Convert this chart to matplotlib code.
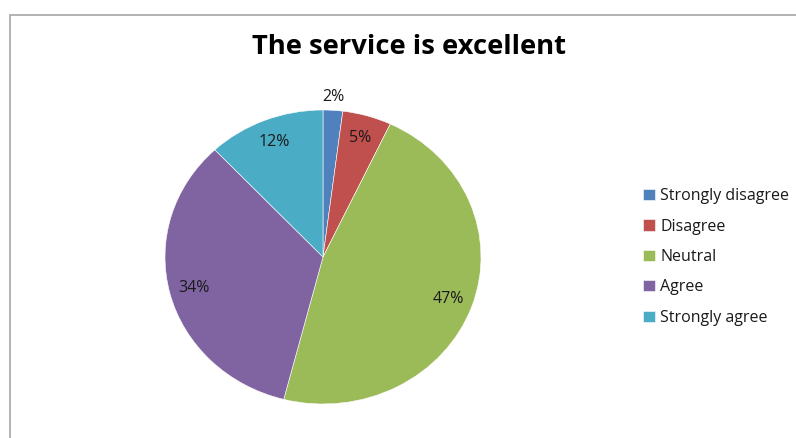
import numpy as np
import matplotlib.pyplot as plt
from matplotlib.patches import Rectangle

# Survey answers for "The service is excellent"
categories = ['Strongly disagree', 'Disagree', 'Neutral', 'Agree', 'Strongly agree']
shares = [2, 5, 47, 34, 12]
colors = ['#4F81BD', '#C0504D', '#9BBB59', '#8064A2', '#4BACC6']

plt.rcParams['font.family'] = ['Open Sans', 'DejaVu Sans']

fig = plt.figure(figsize=(7.96, 4.38), dpi=100)
fig.patch.set_facecolor('white')

# chart frame
fig.patches.append(Rectangle((9.5 / 796, -0.01), 1.0, (438 - 15) / 438 + 0.01,
                             transform=fig.transFigure, fill=False,
                             edgecolor='#a6a6a6', linewidth=1.2))

ax = fig.add_axes([165 / 796, 34 / 438, 316 / 796, 294 / 438])
wedges, _ = ax.pie(shares, colors=colors, startangle=90, counterclock=False,
                   wedgeprops=dict(edgecolor='white', linewidth=0.4))
ax.set_aspect('auto')
ax.set_xlim(-1, 1)
ax.set_ylim(-1, 1)
ax.axis('off')

# percentage labels, the tiny slice sits just outside the pie
for w, v in zip(wedges, shares):
    mid = np.deg2rad((w.theta1 + w.theta2) / 2)
    r = 1.09 if v < 3 else 0.84
    ax.text(r * np.cos(mid), r * np.sin(mid), f'{v}%', ha='center', va='center',
            fontsize=11.5, color='#1a1a1a', clip_on=False)

fig.text(409 / 796, 1 - 47 / 438, 'The service is excellent', ha='center', va='center',
         fontsize=19.7, fontweight='bold', color='black')

leg = fig.legend(wedges, categories, loc='center left',
                 bbox_to_anchor=(629 / 796, 1 - 257 / 438), frameon=False,
                 fontsize=11.5, handlelength=0.7, handleheight=0.7,
                 handletextpad=0.35, labelspacing=0.9)
for t in leg.get_texts():
    t.set_color('#1a1a1a')

fig.savefig('out.png', dpi=100)
